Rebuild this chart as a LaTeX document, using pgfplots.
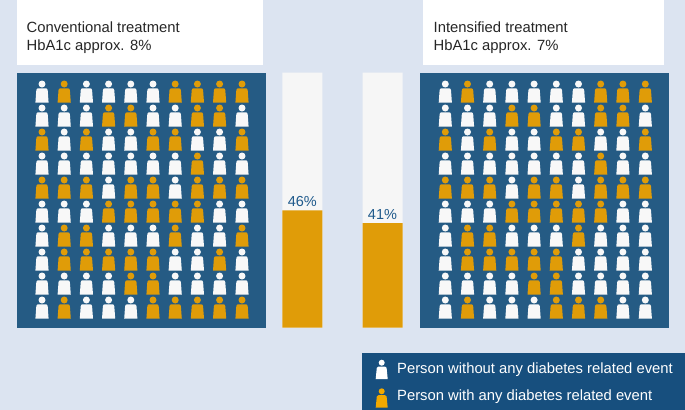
\documentclass[border=0pt]{standalone}
\usepackage{fontspec}
\setmainfont{Liberation Sans}
\usepackage{pgfplots}
\pgfplotsset{compat=1.18}

\definecolor{pagebg}{HTML}{DCE4F1}
\definecolor{panel}{HTML}{255B84}
\definecolor{legendbg}{HTML}{174F7E}
\definecolor{amber}{HTML}{E09C08}
\definecolor{amberlg}{HTML}{F2A900}
\definecolor{offwhite}{HTML}{F8F8F8}
\definecolor{barbg}{HTML}{F6F6F6}
\definecolor{pctblue}{HTML}{1F5A8C}

% person glyphs, 1bp = 1 px of the reference
\pgfdeclareplotmark{person}{%
  \pgfpathcircle{\pgfqpoint{0bp}{8.6bp}}{3.5bp}%
  \pgfpathmoveto{\pgfqpoint{-6.6bp}{-10.1bp}}%
  \pgflineto{\pgfqpoint{-5.7bp}{2.3bp}}%
  \pgfpathcurveto{\pgfqpoint{-5.6bp}{3.6bp}}{\pgfqpoint{-4.9bp}{4.3bp}}{\pgfqpoint{-3.8bp}{4.3bp}}%
  \pgflineto{\pgfqpoint{3.8bp}{4.3bp}}%
  \pgfpathcurveto{\pgfqpoint{4.9bp}{4.3bp}}{\pgfqpoint{5.6bp}{3.6bp}}{\pgfqpoint{5.7bp}{2.3bp}}%
  \pgflineto{\pgfqpoint{6.6bp}{-10.1bp}}%
  \pgfpathclose
  \pgfusepathqfill}
\pgfdeclareplotmark{legendperson}{%
  \pgfpathcircle{\pgfqpoint{0bp}{6.6bp}}{3bp}%
  \pgfpathmoveto{\pgfqpoint{-6bp}{-9.7bp}}%
  \pgflineto{\pgfqpoint{-4.9bp}{1.5bp}}%
  \pgfpathcurveto{\pgfqpoint{-4.8bp}{2.3bp}}{\pgfqpoint{-4.1bp}{2.7bp}}{\pgfqpoint{-3.3bp}{2.7bp}}%
  \pgflineto{\pgfqpoint{3.3bp}{2.7bp}}%
  \pgfpathcurveto{\pgfqpoint{4.1bp}{2.7bp}}{\pgfqpoint{4.8bp}{2.3bp}}{\pgfqpoint{4.9bp}{1.5bp}}%
  \pgflineto{\pgfqpoint{6bp}{-9.7bp}}%
  \pgfpathclose
  \pgfusepathqfill}

\begin{document}
\begin{tikzpicture}
\begin{axis}[
  at={(0bp,0bp)}, anchor=north west,
  hide axis, scale only axis, clip=true,
  width=685bp, height=410bp,
  xmin=0, xmax=685, ymin=0, ymax=410, y dir=reverse,
]
\fill[pagebg] (axis cs:0,0) rectangle (axis cs:685,410);
\fill[white] (axis cs:16.7,0) rectangle (axis cs:262.5,65);
\fill[white] (axis cs:422.7,0) rectangle (axis cs:664,65);
\fill[panel] (axis cs:17,72.7) rectangle (axis cs:265.5,327.5);
\fill[panel] (axis cs:420,72.7) rectangle (axis cs:669,327.5);
\fill[legendbg] (axis cs:361.7,352.7) rectangle (axis cs:685,410);
\node[anchor=west, inner sep=0pt, font=\fontsize{14.8bp}{18bp}\selectfont, align=left, text=black!85] at (axis cs:26.5,37.8) {Conventional treatment\\HbA1c approx. 8\%};
\node[anchor=west, inner sep=0pt, font=\fontsize{14.8bp}{18bp}\selectfont, align=left, text=black!85] at (axis cs:433.5,37.8) {Intensified treatment\\HbA1c approx. 7\%};
\node[anchor=west, inner sep=0pt, font=\fontsize{14.8bp}{18bp}\selectfont, text=white] at (axis cs:397,369.5) {Person without any diabetes related event};
\node[anchor=west, inner sep=0pt, font=\fontsize{14.8bp}{18bp}\selectfont, text=white] at (axis cs:397,396.5) {Person with any diabetes related event};
% legend glyphs
\addplot[only marks, mark=legendperson, color=white] coordinates {(381.7,369.3)};
\addplot[only marks, mark=legendperson, color=amberlg] coordinates {(381.7,397.9)};

% left panel: no event
\addplot[only marks, mark=person, color=offwhite] coordinates {
(42,92.6)(86.4,92.6)(108.6,92.6)(130.8,92.6)(153,92.6)
(42,116.6)(64.2,116.6)(86.4,116.6)(153,116.6)(175.2,116.6)(242,116.6)
(64.2,140.6)(108.6,140.6)(130.8,140.6)(197.4,140.6)(219.6,140.6)
(42,164.6)(64.2,164.6)(86.4,164.6)(108.6,164.6)(130.8,164.6)(153,164.6)(175.2,164.6)(219.6,164.6)(242,164.6)
(108.6,188.6)(175.2,188.6)
(42,212.6)(64.2,212.6)(86.4,212.6)(219.6,212.6)(242,212.6)
(42,236.6)(108.6,236.6)(130.8,236.6)(153,236.6)(197.4,236.6)(219.6,236.6)
(42,260.6)(175.2,260.6)(197.4,260.6)(242,260.6)
(42,284.6)(64.2,284.6)(86.4,284.6)(108.6,284.6)(175.2,284.6)(197.4,284.6)(219.6,284.6)(242,284.6)
(42,308.6)(86.4,308.6)(108.6,308.6)(130.8,308.6)
};
% left panel: event
\addplot[only marks, mark=person, color=amber] coordinates {
(64.2,92.6)(175.2,92.6)(197.4,92.6)(219.6,92.6)(242,92.6)
(108.6,116.6)(130.8,116.6)(197.4,116.6)(219.6,116.6)
(42,140.6)(86.4,140.6)(153,140.6)(175.2,140.6)(242,140.6)
(197.4,164.6)
(42,188.6)(64.2,188.6)(86.4,188.6)(130.8,188.6)(153,188.6)(197.4,188.6)(219.6,188.6)(242,188.6)
(108.6,212.6)(130.8,212.6)(153,212.6)(175.2,212.6)(197.4,212.6)
(64.2,236.6)(86.4,236.6)(175.2,236.6)(242,236.6)
(64.2,260.6)(86.4,260.6)(108.6,260.6)(130.8,260.6)(153,260.6)(219.6,260.6)
(130.8,284.6)(153,284.6)
(64.2,308.6)(153,308.6)(175.2,308.6)(197.4,308.6)(219.6,308.6)(242,308.6)
};
% right panel: no event
\addplot[only marks, mark=person, color=offwhite] coordinates {
(445.3,92.6)(489.7,92.6)(511.9,92.6)(534.1,92.6)(556.3,92.6)(578.5,92.6)
(445.3,116.6)(467.5,116.6)(489.7,116.6)(556.3,116.6)(578.5,116.6)(645.3,116.6)
(467.5,140.6)(511.9,140.6)(534.1,140.6)(600.7,140.6)(622.9,140.6)
(445.3,164.6)(467.5,164.6)(489.7,164.6)(511.9,164.6)(534.1,164.6)(556.3,164.6)(578.5,164.6)(622.9,164.6)(645.3,164.6)
(511.9,188.6)(578.5,188.6)
(445.3,212.6)(467.5,212.6)(489.7,212.6)(622.9,212.6)(645.3,212.6)
(445.3,236.6)(511.9,236.6)(534.1,236.6)(556.3,236.6)(600.7,236.6)(622.9,236.6)(645.3,236.6)
(445.3,260.6)(578.5,260.6)(600.7,260.6)(622.9,260.6)(645.3,260.6)
(445.3,284.6)(467.5,284.6)(489.7,284.6)(511.9,284.6)(578.5,284.6)(600.7,284.6)(622.9,284.6)(645.3,284.6)
(445.3,308.6)(489.7,308.6)(511.9,308.6)(534.1,308.6)(622.9,308.6)(645.3,308.6)
};
% right panel: event
\addplot[only marks, mark=person, color=amber] coordinates {
(467.5,92.6)(600.7,92.6)(622.9,92.6)(645.3,92.6)
(511.9,116.6)(534.1,116.6)(600.7,116.6)(622.9,116.6)
(445.3,140.6)(489.7,140.6)(556.3,140.6)(578.5,140.6)(645.3,140.6)
(600.7,164.6)
(445.3,188.6)(467.5,188.6)(489.7,188.6)(534.1,188.6)(556.3,188.6)(600.7,188.6)(622.9,188.6)(645.3,188.6)
(511.9,212.6)(534.1,212.6)(556.3,212.6)(578.5,212.6)(600.7,212.6)
(467.5,236.6)(489.7,236.6)(578.5,236.6)
(467.5,260.6)(489.7,260.6)(511.9,260.6)(534.1,260.6)(556.3,260.6)
(534.1,284.6)(556.3,284.6)
(467.5,308.6)(556.3,308.6)(578.5,308.6)(600.7,308.6)
};
\end{axis}

% percentage bars, on a 0-100 scale
\begin{axis}[
  at={(0bp,-327.7bp)}, anchor=south west,
  hide axis, scale only axis, clip=false,
  width=685bp, height=255bp,
  xmin=0, xmax=685, ymin=0, ymax=100,
]
\addplot[ybar, bar shift=0pt, bar width=40bp, fill=barbg, draw=none] coordinates {(302.3,100)(382.5,100)};
\addplot[ybar, bar shift=0pt, bar width=40bp, fill=amber, draw=none,
  nodes near coords, nodes near coords style={font=\fontsize{14.5bp}{17bp}\selectfont, text=pctblue},
  point meta=explicit symbolic]
  coordinates {(302.3,46)[46\%] (382.5,41)[41\%]};
\end{axis}
\end{tikzpicture}
\end{document}
